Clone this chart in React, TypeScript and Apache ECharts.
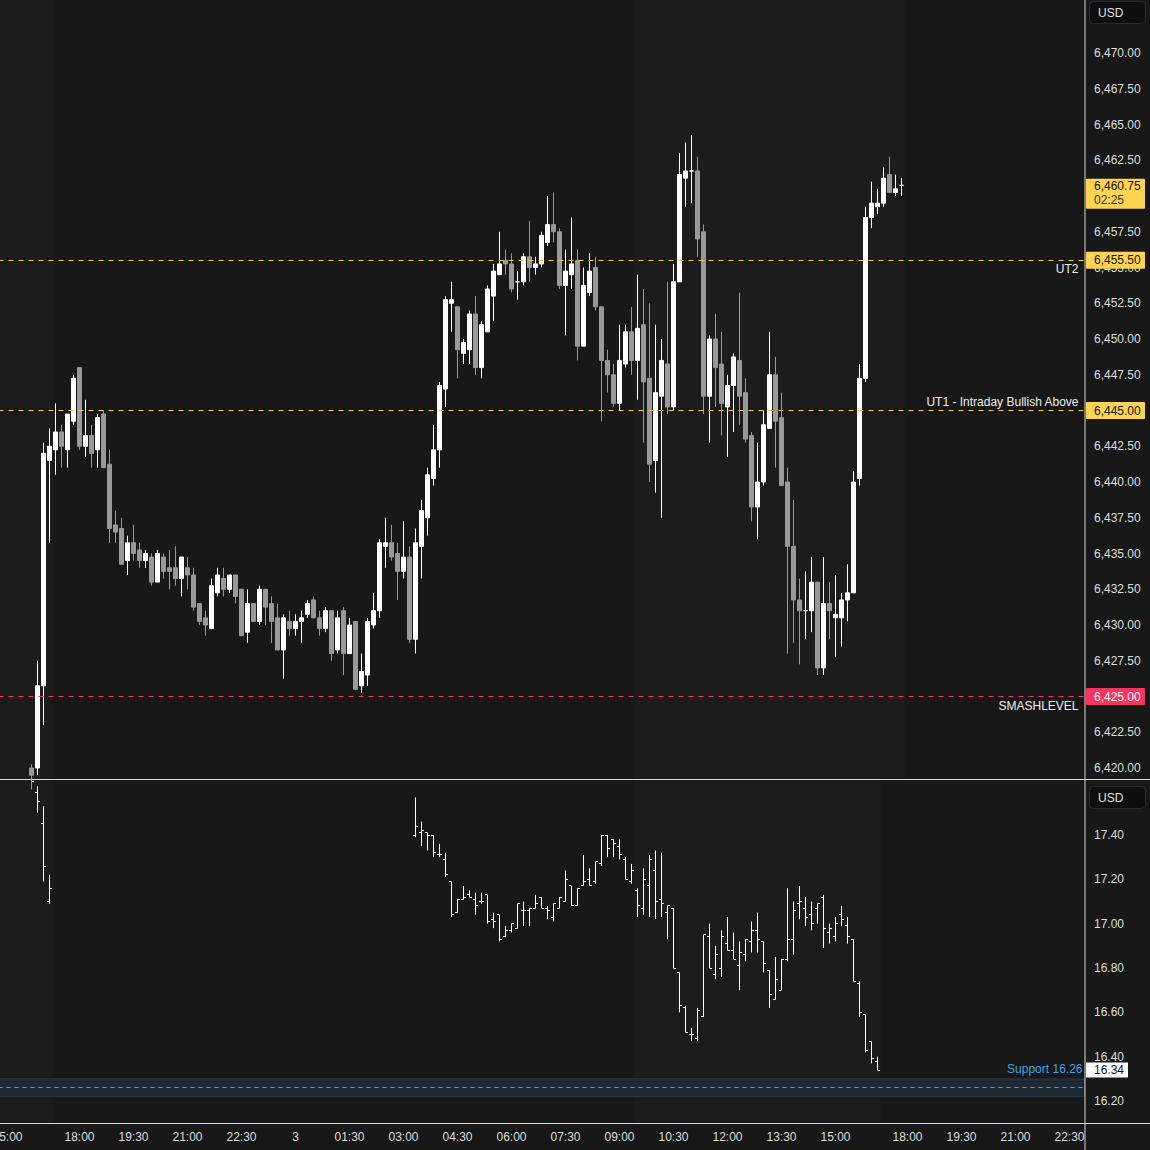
import React, { useEffect, useRef } from "react";
import * as echarts from "echarts";

// ---------- time slots (10-minute bars), "day|HH:MM" ----------
const sessionSpans: [number, string, number][] = [
  [2, "14:50", 7],
  [2, "17:00", 138],
  [3, "17:00", 36],
];
const tickTimes = ["15:00", "18:00", "19:30", "21:00", "22:30", "00:00", "01:30", "03:00", "04:30", "06:00", "07:30", "09:00", "10:30", "12:00", "13:30"];
const dayLabel = "3";

// ---------- ES (top pane) : [open, high, low, close] ----------
const esFirst = "2|15:40";
const esBars: number[][] = [
  [6420.0, 6420.25, 6418.5, 6419.5],
  [6420.0, 6427.5, 6419.5, 6425.75],
  [6425.75, 6442.75, 6423.0, 6442.0],
  [6441.5, 6443.75, 6435.75, 6442.5],
  [6442.25, 6445.5, 6440.5, 6443.5],
  [6443.5, 6444.0, 6441.0, 6442.5],
  [6442.25, 6444.75, 6441.0, 6444.75],
  [6444.25, 6447.5, 6444.0, 6447.25],
  [6448.0, 6448.0, 6442.25, 6442.5],
  [6442.5, 6445.75, 6441.75, 6443.25],
  [6443.25, 6444.0, 6441.0, 6442.0],
  [6442.25, 6444.75, 6441.0, 6444.5],
  [6444.75, 6445.0, 6441.0, 6441.0],
  [6441.25, 6442.25, 6435.75, 6436.75],
  [6437.0, 6438.0, 6435.75, 6436.5],
  [6436.75, 6437.5, 6434.25, 6434.25],
  [6434.5, 6436.25, 6433.5, 6435.75],
  [6435.75, 6437.0, 6434.5, 6435.0],
  [6435.25, 6435.75, 6434.0, 6434.5],
  [6434.5, 6435.25, 6434.0, 6435.0],
  [6434.75, 6435.0, 6432.75, 6433.0],
  [6433.0, 6435.25, 6433.0, 6435.0],
  [6434.75, 6435.0, 6433.25, 6433.75],
  [6434.0, 6435.25, 6432.5, 6433.75],
  [6434.0, 6435.5, 6432.75, 6433.25],
  [6433.25, 6434.75, 6432.0, 6434.75],
  [6434.0, 6434.75, 6432.5, 6433.5],
  [6433.5, 6434.0, 6431.0, 6431.25],
  [6431.5, 6431.5, 6430.0, 6430.25],
  [6430.5, 6431.0, 6429.25, 6430.0],
  [6429.75, 6433.25, 6429.75, 6432.75],
  [6432.25, 6434.0, 6432.0, 6433.5],
  [6433.25, 6434.0, 6432.0, 6432.5],
  [6432.5, 6433.5, 6432.25, 6433.5],
  [6433.5, 6433.5, 6431.5, 6432.0],
  [6432.5, 6432.5, 6429.25, 6429.25],
  [6429.5, 6432.5, 6428.75, 6431.5],
  [6431.5, 6431.5, 6430.25, 6430.25],
  [6430.25, 6432.75, 6430.0, 6432.5],
  [6432.5, 6432.5, 6430.0, 6431.25],
  [6431.5, 6432.0, 6428.75, 6430.25],
  [6430.5, 6431.5, 6428.25, 6428.25],
  [6428.25, 6430.75, 6426.25, 6430.5],
  [6430.25, 6431.0, 6429.25, 6429.75],
  [6429.75, 6430.75, 6429.25, 6430.25],
  [6430.25, 6431.0, 6428.75, 6430.5],
  [6430.75, 6431.75, 6430.5, 6431.5],
  [6431.75, 6432.0, 6430.5, 6430.5],
  [6430.5, 6431.0, 6429.25, 6429.75],
  [6429.75, 6431.25, 6429.5, 6431.0],
  [6431.0, 6431.0, 6427.5, 6428.0],
  [6428.25, 6431.0, 6428.0, 6430.5],
  [6431.0, 6431.25, 6426.5, 6428.0],
  [6428.0, 6430.5, 6428.0, 6430.0],
  [6430.25, 6430.25, 6425.5, 6425.5],
  [6425.75, 6428.0, 6425.25, 6426.75],
  [6426.5, 6430.5, 6425.75, 6430.25],
  [6430.0, 6432.25, 6429.75, 6431.0],
  [6431.0, 6436.0, 6430.5, 6435.75],
  [6435.5, 6437.5, 6434.0, 6435.75],
  [6435.75, 6437.0, 6434.5, 6434.75],
  [6435.0, 6435.75, 6431.75, 6433.75],
  [6433.75, 6437.25, 6433.25, 6434.75],
  [6434.75, 6435.5, 6428.75, 6429.0],
  [6429.0, 6436.75, 6428.0, 6435.75],
  [6435.5, 6438.75, 6433.25, 6438.0],
  [6437.5, 6441.0, 6436.25, 6440.5],
  [6440.25, 6444.0, 6439.75, 6442.25],
  [6442.25, 6447.0, 6441.0, 6446.75],
  [6446.5, 6453.0, 6445.25, 6452.75],
  [6452.5, 6454.0, 6450.5, 6452.75],
  [6452.25, 6452.25, 6447.25, 6449.25],
  [6449.0, 6450.0, 6448.25, 6449.75],
  [6449.25, 6452.0, 6448.25, 6451.75],
  [6451.75, 6453.0, 6447.5, 6448.0],
  [6448.0, 6451.25, 6447.25, 6451.0],
  [6450.5, 6453.75, 6450.5, 6453.5],
  [6453.0, 6455.25, 6451.25, 6454.75],
  [6454.5, 6457.5, 6454.5, 6455.25],
  [6455.5, 6456.25, 6454.5, 6455.25],
  [6455.25, 6456.0, 6453.25, 6453.5],
  [6454.0, 6454.75, 6452.75, 6454.0],
  [6454.0, 6456.0, 6453.75, 6455.75],
  [6455.75, 6458.25, 6454.0, 6455.0],
  [6455.0, 6455.75, 6454.5, 6455.25],
  [6455.25, 6457.5, 6455.0, 6457.25],
  [6456.75, 6460.0, 6456.5, 6458.0],
  [6458.0, 6460.25, 6456.75, 6457.5],
  [6457.5, 6457.75, 6453.5, 6453.75],
  [6453.75, 6456.25, 6450.25, 6454.75],
  [6454.5, 6458.5, 6453.5, 6455.25],
  [6455.5, 6456.25, 6448.5, 6449.5],
  [6449.5, 6455.0, 6449.5, 6453.75],
  [6453.25, 6456.0, 6453.0, 6454.75],
  [6455.0, 6455.75, 6452.0, 6452.25],
  [6452.25, 6452.25, 6444.25, 6448.5],
  [6448.5, 6449.25, 6446.25, 6447.5],
  [6447.5, 6448.25, 6445.25, 6445.5],
  [6445.5, 6451.0, 6445.0, 6448.5],
  [6448.25, 6451.0, 6448.0, 6450.5],
  [6450.5, 6452.25, 6447.5, 6448.5],
  [6448.5, 6454.5, 6445.75, 6450.75],
  [6451.0, 6453.5, 6442.75, 6447.0],
  [6447.25, 6452.5, 6440.0, 6441.25],
  [6441.5, 6451.0, 6439.25, 6446.25],
  [6446.0, 6450.0, 6437.5, 6448.5],
  [6448.25, 6454.0, 6444.75, 6445.25],
  [6445.25, 6455.25, 6445.0, 6454.0],
  [6454.0, 6463.0, 6454.0, 6461.5],
  [6461.25, 6463.75, 6459.25, 6461.75],
  [6461.75, 6464.25, 6459.5, 6461.75],
  [6461.75, 6462.75, 6455.75, 6457.0],
  [6457.5, 6458.0, 6444.75, 6446.0],
  [6446.0, 6450.25, 6442.75, 6450.0],
  [6450.0, 6451.75, 6445.25, 6448.0],
  [6448.25, 6450.5, 6443.25, 6445.5],
  [6445.25, 6447.5, 6441.75, 6446.75],
  [6446.75, 6449.0, 6443.5, 6448.75],
  [6448.5, 6453.25, 6444.0, 6446.0],
  [6446.25, 6447.25, 6442.75, 6443.0],
  [6443.25, 6443.5, 6437.25, 6438.25],
  [6438.25, 6442.75, 6436.0, 6440.0],
  [6440.0, 6445.0, 6439.75, 6444.0],
  [6443.75, 6450.5, 6443.75, 6447.5],
  [6447.5, 6448.75, 6441.0, 6444.25],
  [6444.5, 6446.25, 6439.75, 6439.75],
  [6440.0, 6441.0, 6428.0, 6435.5],
  [6435.5, 6438.75, 6428.75, 6431.75],
  [6431.75, 6433.25, 6427.25, 6431.0],
  [6431.0, 6433.75, 6429.0, 6431.0],
  [6431.0, 6434.75, 6429.5, 6433.0],
  [6433.0, 6433.0, 6426.5, 6427.0],
  [6427.0, 6434.75, 6426.5, 6431.5],
  [6431.5, 6433.0, 6429.0, 6431.0],
  [6430.5, 6433.5, 6427.75, 6430.75],
  [6430.5, 6432.25, 6428.5, 6431.75],
  [6431.75, 6434.25, 6430.25, 6432.25],
  [6432.25, 6440.75, 6432.25, 6440.0],
  [6440.25, 6448.25, 6439.75, 6447.25],
  [6447.25, 6459.25, 6447.0, 6458.5],
  [6458.5, 6461.0, 6457.75, 6459.5],
  [6459.25, 6460.5, 6458.75, 6459.5],
  [6459.5, 6462.0, 6459.25, 6461.25],
  [6461.5, 6462.75, 6460.25, 6460.25],
  [6460.25, 6461.5, 6460.0, 6460.5],
  [6460.75, 6461.25, 6460.0, 6460.75],
];

// ---------- VIX (lower pane) : [open, high, low, close] ----------
const vixFirstA = "2|15:40";
const vixBarsA: number[][] = [
  [17.7, 17.75, 17.62, 17.64],
  [17.59, 17.62, 17.5, 17.55],
  [17.45, 17.53, 17.19, 17.26],
  [17.1, 17.22, 17.09, 17.16],
];
const vixFirstB = "3|03:20";
const vixBarsB: number[][] = [
  [17.4, 17.57, 17.39, 17.44],
  [17.41, 17.46, 17.35, 17.42],
  [17.41, 17.41, 17.33, 17.4],
  [17.4, 17.4, 17.3, 17.32],
  [17.31, 17.36, 17.3, 17.31],
  [17.29, 17.32, 17.21, 17.22],
  [17.19, 17.19, 17.03, 17.04],
  [17.05, 17.11, 17.05, 17.11],
  [17.11, 17.17, 17.11, 17.12],
  [17.13, 17.15, 17.12, 17.12],
  [17.11, 17.14, 17.04, 17.08],
  [17.1, 17.14, 17.09, 17.1],
  [17.13, 17.13, 17.0, 17.01],
  [17.02, 17.05, 16.98, 17.01],
  [17.04, 17.04, 16.92, 16.93],
  [16.94, 16.99, 16.94, 16.97],
  [16.97, 17.0, 16.96, 17.0],
  [16.98, 17.09, 16.98, 17.09],
  [17.06, 17.1, 16.99, 17.06],
  [17.06, 17.07, 16.99, 17.07],
  [17.07, 17.13, 17.07, 17.09],
  [17.12, 17.12, 17.07, 17.07],
  [17.07, 17.08, 17.02, 17.06],
  [17.03, 17.09, 17.01, 17.09],
  [17.07, 17.12, 17.07, 17.12],
  [17.1, 17.24, 17.1, 17.2],
  [17.17, 17.17, 17.08, 17.08],
  [17.08, 17.16, 17.08, 17.16],
  [17.17, 17.31, 17.17, 17.19],
  [17.2, 17.25, 17.17, 17.17],
  [17.19, 17.28, 17.18, 17.28],
  [17.27, 17.4, 17.26, 17.4],
  [17.4, 17.4, 17.3, 17.34],
  [17.38, 17.38, 17.3, 17.36],
  [17.35, 17.38, 17.29, 17.31],
  [17.29, 17.3, 17.2, 17.2],
  [17.19, 17.27, 17.18, 17.24],
  [17.15, 17.16, 17.03, 17.08],
  [17.07, 17.25, 17.04, 17.2],
  [17.17, 17.31, 17.03, 17.29],
  [17.24, 17.33, 17.02, 17.1],
  [17.11, 17.32, 17.03, 17.09],
  [17.05, 17.08, 16.93, 17.08],
  [17.07, 17.07, 16.8, 16.8],
  [16.78, 16.78, 16.6, 16.63],
  [16.62, 16.63, 16.51, 16.51],
  [16.5, 16.53, 16.47, 16.5],
  [16.48, 16.62, 16.47, 16.61],
  [16.58, 16.95, 16.58, 16.95],
  [16.94, 17.0, 16.8, 16.8],
  [16.77, 16.9, 16.75, 16.86],
  [16.8, 16.97, 16.76, 16.94],
  [16.91, 17.03, 16.88, 16.88],
  [16.88, 16.96, 16.84, 16.84],
  [16.81, 16.92, 16.7, 16.87],
  [16.86, 16.93, 16.83, 16.93],
  [16.92, 17.01, 16.87, 16.97],
  [16.97, 17.05, 16.87, 16.93],
  [16.92, 16.92, 16.78, 16.82],
  [16.79, 16.79, 16.62, 16.68],
  [16.66, 16.85, 16.66, 16.75],
  [16.7, 16.84, 16.7, 16.84],
  [16.84, 17.16, 16.83, 16.93],
  [16.93, 17.1, 16.86, 17.06],
  [17.09, 17.17, 17.02, 17.1],
  [17.07, 17.12, 16.99, 17.03],
  [17.04, 17.1, 16.97, 17.0],
  [17.07, 17.09, 17.0, 17.09],
  [17.12, 17.13, 16.89, 16.98],
  [16.96, 17.0, 16.91, 16.98],
  [16.94, 17.03, 16.92, 17.0],
  [17.04, 17.08, 16.99, 17.02],
  [16.99, 17.03, 16.91, 16.94],
  [16.93, 16.93, 16.74, 16.74],
  [16.73, 16.74, 16.58, 16.6],
  [16.59, 16.59, 16.42, 16.43],
  [16.47, 16.47, 16.37, 16.39],
  [16.38, 16.4, 16.34, 16.34],
];

// ---------- axes ----------
const priceTicks = [6420, 6422.5, 6425, 6427.5, 6430, 6432.5, 6435, 6437.5, 6440, 6442.5, 6445, 6447.5, 6450, 6452.5, 6455, 6457.5, 6462.5, 6465, 6467.5, 6470];
const vixTicks = [16.2, 16.4, 16.6, 16.8, 17.0, 17.2, 17.4];

// ---------- levels ----------
const levelValues = [6455.5, 6445, 6425];
const levelNames = ["UT2", "UT1 - Intraday Bullish Above", "SMASHLEVEL"];
const lastPrice = 6460.75;
const countdown = "02:25";
const lastVix = 16.34;
const supportValue = 16.26;
const supportBand = [16.22, 16.3];
const supportName = "Support 16.26";
// session backgrounds [first bar, last bar] per pane
const topShade: [string, string][] = [
  ["2|14:50", "2|17:10"],
  ["3|09:30", "3|17:50"],
];
const lowShade: [string, string][] = [
  ["2|14:50", "2|17:10"],
  ["3|09:30", "3|17:10"],
];

// ---------- styles ----------
const levelColors = ["#f5c84c", "#f5c84c", "#f7335f"];
const levelBoxColors = ["#ffd451", "#ffd451", "#f7335f"];
const levelBoxText = ["#111111", "#111111", "#ffffff"];
const levelLabelAbove = [false, true, false];
const BG = "#181818";
const SHADE = "#1c1c1c";
const TXT = "#dedede";
const FONT = "Liberation Sans, Arial, sans-serif";

function buildSlots(): string[] {
  const out: string[] = [];
  sessionSpans.forEach(([day, start, n]) => {
    const [h, m] = start.split(":").map(Number);
    let t = h * 60 + m;
    let d = day;
    for (let i = 0; i < n; i++) {
      const hh = Math.floor(t / 60) % 24;
      const mm = t % 60;
      out.push(`${d}|${String(hh).padStart(2, "0")}:${String(mm).padStart(2, "0")}`);
      t += 10;
      if (t >= 24 * 60) {
        t -= 24 * 60;
        d += 1;
      }
    }
  });
  return out;
}

const fmtPrice = (v: number) =>
  v.toLocaleString("en-US", { minimumFractionDigits: 2, maximumFractionDigits: 2 });

export default function App() {
  const ref = useRef<HTMLDivElement>(null);

  useEffect(() => {
    if (!ref.current) return;
    const chart = echarts.init(ref.current, null, { renderer: "svg" });
    const cats = buildSlots();

    const esStart = cats.indexOf(esFirst);
    const esData = cats.map((_, i) => {
      const b = esBars[i - esStart];
      if (!b) return ["-", "-", "-", "-"];
      return [b[0], b[3], b[2], b[1]];
    });

    const vixData: number[][] = [];
    const pushVix = (first: string, bars: number[][]) => {
      const s = cats.indexOf(first);
      bars.forEach((b, j) => vixData.push([s + j, b[0], b[1], b[2], b[3]]));
    };
    pushVix(vixFirstA, vixBarsA);
    pushVix(vixFirstB, vixBarsB);

    // axis extents chosen to match the reference scale
    const topMax = 6470 + 53 / 14.3;
    const topMin = 6470 - 726 / 14.3;
    const lowMax = 17.4 + 55 / 221.7;
    const lowMin = 17.4 - 288 / 221.7;

    const gridLeft = -1.5;
    const gridRight = 65.5;
    const plotRight = 1150 - gridRight;

    const crisp = (v: number) => Math.round(v - 0.5) + 0.5;

    const option: any = {
      animation: false,
      backgroundColor: BG,
      textStyle: { fontFamily: FONT },
      grid: [
        { left: gridLeft, right: gridRight, top: 0, height: 779, outerBoundsMode: "none", containLabel: false },
        { left: gridLeft, right: gridRight, top: 780, height: 343, outerBoundsMode: "none", containLabel: false },
      ],
      xAxis: [
        {
          type: "category", gridIndex: 0, data: cats, boundaryGap: true,
          axisLine: { show: false }, axisTick: { show: false }, axisLabel: { show: false }, splitLine: { show: false },
        },
        {
          type: "category", gridIndex: 1, data: cats, boundaryGap: true,
          axisLine: { show: false }, axisTick: { show: false }, splitLine: { show: false },
          axisLabel: {
            show: true,
            interval: (_i: number, v: string) => tickTimes.includes(v.split("|")[1]),
            formatter: (v: string) => {
              const t = v.split("|")[1];
              return t === "00:00" ? dayLabel : t;
            },
            color: TXT, fontSize: 12, fontFamily: FONT, margin: 8,
          },
        },
      ],
      yAxis: [
        {
          type: "value", gridIndex: 0, position: "right", min: topMin, max: topMax,
          axisLine: { show: false }, axisTick: { show: false }, splitLine: { show: false },
          axisLabel: { customValues: priceTicks, formatter: (v: number) => fmtPrice(v), color: TXT, fontSize: 12, fontFamily: FONT, margin: 9.5 },
        },
        {
          type: "value", gridIndex: 1, position: "right", min: lowMin, max: lowMax,
          axisLine: { show: false }, axisTick: { show: false }, splitLine: { show: false },
          axisLabel: { customValues: vixTicks, formatter: (v: number) => v.toFixed(2), color: TXT, fontSize: 12, fontFamily: FONT, margin: 9.5 },
        },
      ],
      series: [
        {
          type: "candlestick", xAxisIndex: 0, yAxisIndex: 0, data: esData, barWidth: 4, clip: true,
          itemStyle: { color: "#ffffff", color0: "#999999", borderColor: "#ffffff", borderColor0: "#999999", borderWidth: 1 },
          emphasis: { disabled: true },
          markLine: {
            symbol: "none", silent: true,
            data: levelValues.map((v, i) => ({
              yAxis: v,
              lineStyle: { color: levelColors[i], type: [5, 5], width: 1 },
              label: {
                show: true, formatter: levelNames[i],
                position: levelLabelAbove[i] ? "insideEndTop" : "insideEndBottom",
                color: "#eeeeee", fontSize: 12, fontFamily: FONT, distance: [6, 3],
              },
            })),
          },
        },
        {
          type: "custom", xAxisIndex: 1, yAxisIndex: 1, data: vixData, clip: true,
          encode: { x: 0, y: [1, 2, 3, 4] },
          renderItem: (_p: any, api: any) => {
            const x = api.value(0);
            const o = api.coord([x, api.value(1)]);
            const h = api.coord([x, api.value(2)]);
            const l = api.coord([x, api.value(3)]);
            const c = api.coord([x, api.value(4)]);
            const cx = crisp(o[0]);
            const style = { stroke: "#ffffff", lineWidth: 1 };
            return {
              type: "group",
              children: [
                { type: "line", shape: { x1: cx, y1: h[1], x2: cx, y2: l[1] }, style },
                { type: "line", shape: { x1: cx - 2.5, y1: crisp(o[1]), x2: cx, y2: crisp(o[1]) }, style },
                { type: "line", shape: { x1: cx, y1: crisp(c[1]), x2: cx + 2.5, y2: crisp(c[1]) }, style },
              ],
            };
          },
          markArea: {
            silent: true,
            itemStyle: { color: "#1e2a33", borderColor: "#23394a", borderWidth: 1 },
            data: [[{ yAxis: supportBand[0] }, { yAxis: supportBand[1] }]],
          },
          markLine: {
            symbol: "none", silent: true,
            data: [
              {
                yAxis: supportValue,
                lineStyle: { color: "#48a6dc", type: [4, 4], width: 1 },
                label: { show: true, formatter: supportName, position: "insideEndTop", color: "#3aa6e0", fontSize: 12, fontFamily: FONT, distance: [2, 13] },
              },
            ],
          },
        },
      ],
    };
    chart.setOption(option);

    const yTop = (v: number) => chart.convertToPixel({ yAxisIndex: 0 } as any, v) as number;
    const yLow = (v: number) => chart.convertToPixel({ yAxisIndex: 1 } as any, v) as number;
    const xCat = (c: string) => chart.convertToPixel({ xAxisIndex: 0 } as any, cats.indexOf(c)) as number;

    const els: any[] = [];
    // session shading
    const shade = (ranges: [string, string][], y0: number, y1: number) =>
      ranges.forEach(([a, b]) => {
        const x0 = Math.max(0, xCat(a) - 3);
        const x1 = xCat(b) + 3;
        els.push({ type: "rect", z: -10, silent: true, shape: { x: x0, y: y0, width: x1 - x0, height: y1 - y0 }, style: { fill: SHADE } });
      });
    shade(topShade, 0, 779);
    shade(lowShade, 780, 1123);
    // pane borders
    const lineStyle = { stroke: "#d8d8d8", lineWidth: 1 };
    els.push({ type: "line", z: 50, silent: true, shape: { x1: plotRight + 0.5, y1: 0, x2: plotRight + 0.5, y2: 1150 }, style: lineStyle });
    els.push({ type: "line", z: 50, silent: true, shape: { x1: 0, y1: 779.5, x2: 1150, y2: 779.5 }, style: lineStyle });
    els.push({ type: "line", z: 50, silent: true, shape: { x1: 0, y1: 1123.5, x2: 1150, y2: 1123.5 }, style: lineStyle });
    // USD boxes
    [1, 786].forEach((y) => {
      els.push({ type: "rect", z: 60, silent: true, shape: { x: 1089.5, y: y + 0.5, width: 56, height: 22, r: 4 }, style: { fill: "#0e0e0e", stroke: "#2c2c2c", lineWidth: 1 } });
      els.push({ type: "text", z: 61, silent: true, x: 1098, y: y + 12, style: { text: "USD", fill: "#e0e0e0", font: `12px ${FONT}`, textVerticalAlign: "middle" } });
    });
    // level price boxes
    levelValues.forEach((v, i) => {
      const y = yTop(v);
      els.push({ type: "rect", z: 60, silent: true, shape: { x: 1086, y: y - 8.5, width: 59, height: 17, r: 1 }, style: { fill: levelBoxColors[i] } });
      els.push({ type: "text", z: 61, silent: true, x: 1094, y: y, style: { text: fmtPrice(v), fill: levelBoxText[i], font: `12px ${FONT}`, textVerticalAlign: "middle" } });
    });
    // last price box
    const yl = yTop(lastPrice);
    els.push({ type: "rect", z: 60, silent: true, shape: { x: 1086, y: yl - 6.5, width: 59, height: 30, r: 1 }, style: { fill: "#ffd451" } });
    els.push({ type: "text", z: 61, silent: true, x: 1094, y: yl + 1, style: { text: fmtPrice(lastPrice), fill: "#111111", font: `12px ${FONT}`, textVerticalAlign: "middle" } });
    els.push({ type: "text", z: 61, silent: true, x: 1094, y: yl + 15, style: { text: countdown, fill: "#333333", font: `12px ${FONT}`, textVerticalAlign: "middle" } });
    // last vix box
    const yv = yLow(lastVix);
    els.push({ type: "rect", z: 60, silent: true, shape: { x: 1086, y: yv - 7.5, width: 42, height: 15 }, style: { fill: "#ffffff" } });
    els.push({ type: "text", z: 61, silent: true, x: 1094, y: yv, style: { text: lastVix.toFixed(2), fill: "#111111", font: `12px ${FONT}`, textVerticalAlign: "middle" } });

    chart.setOption({ graphic: { elements: els } });

    return () => chart.dispose();
  }, []);

  return (
    <div
      ref={ref}
      style={{ position: "absolute", left: 0, top: 0, width: 1150, height: 1150 }}
    />
  );
}
